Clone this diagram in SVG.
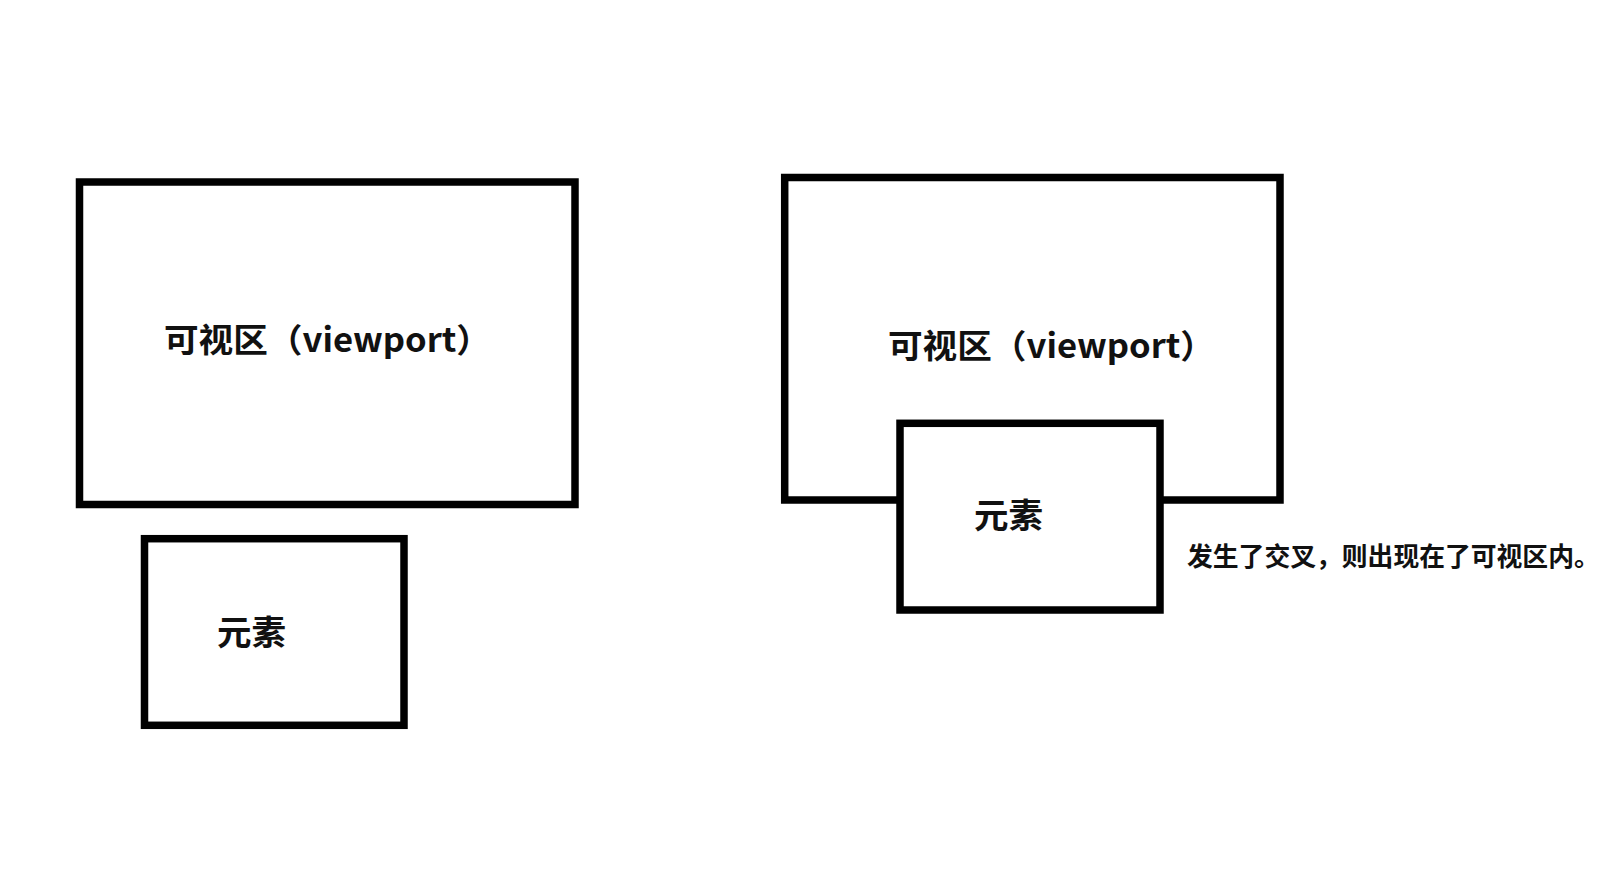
<svg xmlns="http://www.w3.org/2000/svg" width="1619" height="879" viewBox="0 0 1619 879">
<style>
.box{fill:#fff;stroke:#000;stroke-width:7.5}
.lbl{font-family:"Noto Sans CJK SC","Noto Sans",sans-serif;font-weight:bold;fill:#111}
</style>
<rect width="1619" height="879" fill="#fff"/>
<g id="left-viewport">
<rect class="box" x="79.5" y="182" width="495.5" height="322.5"/>
<text class="lbl" x="164" y="352" font-size="33" textLength="327" lengthAdjust="spacingAndGlyphs">可视区（viewport）</text>
</g>
<g id="left-element">
<rect class="box" x="144.5" y="538.7" width="259.5" height="186.6"/>
<text class="lbl" x="217" y="645" font-size="34.5">元素</text>
</g>
<g id="right-viewport">
<rect class="box" x="784.7" y="177.5" width="495.3" height="322.5"/>
<text class="lbl" x="888" y="358" font-size="33" textLength="327" lengthAdjust="spacingAndGlyphs">可视区（viewport）</text>
</g>
<g id="right-element">
<rect class="box" x="900" y="423.3" width="260" height="186.7"/>
<text class="lbl" x="974" y="528" font-size="34.5">元素</text>
</g>
<g id="note">
<text class="lbl" x="1187" y="566" font-size="25.8">发生了交叉，则出现在了可视区内。</text>
</g>
<g id="connectors"></g>
</svg>
